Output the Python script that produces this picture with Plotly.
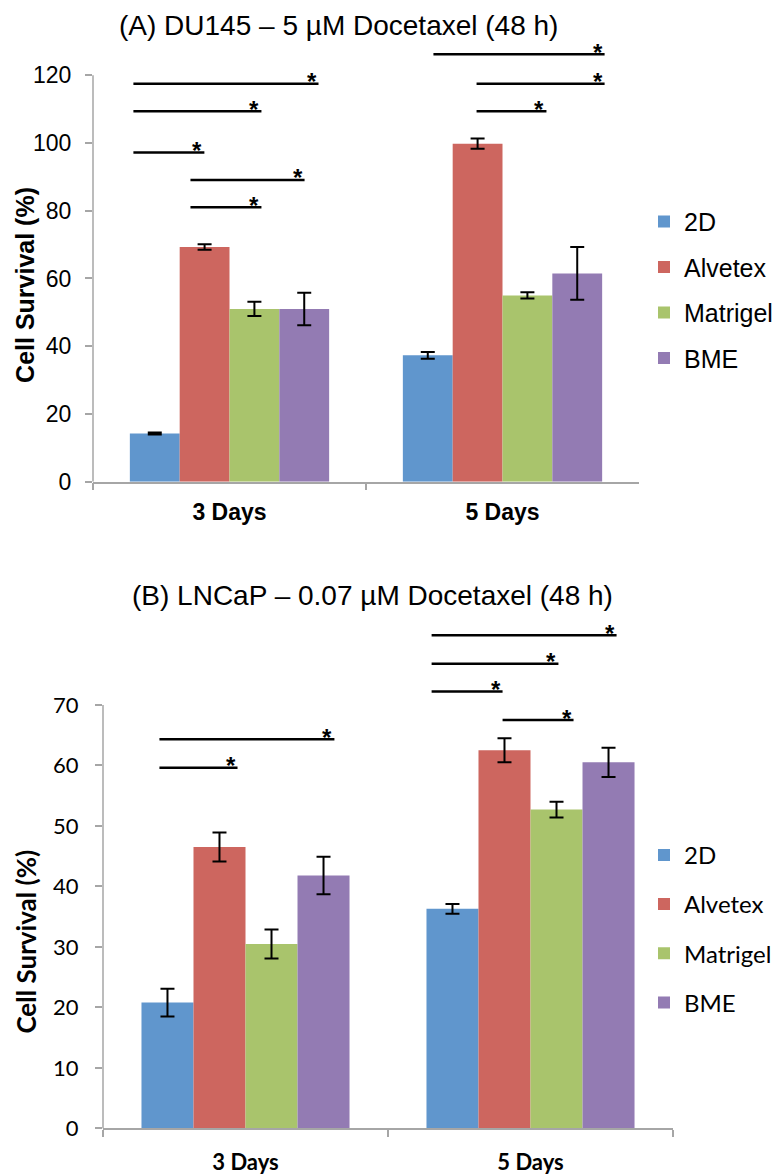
import plotly.graph_objects as go

# ---------------- data ----------------
categories = ["3 Days", "5 Days"]
series = ["2D", "Alvetex", "Matrigel", "BME"]
colors = ["#6096CD", "#CD665F", "#A9C46C", "#937BB3"]

# Panel A: DU145 - 5 uM Docetaxel
a_values = {
    "2D": [14.2, 37.3],
    "Alvetex": [69.3, 99.8],
    "Matrigel": [51.0, 55.0],
    "BME": [51.0, 61.5],
}
a_errors = {
    "2D": [0.3, 1.0],
    "Alvetex": [0.8, 1.5],
    "Matrigel": [2.1, 0.9],
    "BME": [4.8, 7.8],
}
# significance bars: category index, start offset, end offset, height
a_sig_cat = [0, 0, 0, 0, 0, 1, 1, 1]
a_sig_x0 = [-0.352, -0.352, -0.352, -0.143, -0.143, -0.253, -0.095, -0.095]
a_sig_x1 = [0.326, 0.117, -0.092, 0.275, 0.117, 0.374, 0.374, 0.161]
a_sig_y = [117.5, 109.4, 97.2, 89.1, 81.0, 126.2, 117.5, 109.4]
a_ticks = [0, 20, 40, 60, 80, 100, 120]

# Panel B: LNCaP - 0.07 uM Docetaxel
b_values = {
    "2D": [20.8, 36.3],
    "Alvetex": [46.5, 62.5],
    "Matrigel": [30.5, 52.7],
    "BME": [41.8, 60.5],
}
b_errors = {
    "2D": [2.3, 0.8],
    "Alvetex": [2.4, 2.0],
    "Matrigel": [2.4, 1.3],
    "BME": [3.1, 2.4],
}
b_sig_cat = [0, 0, 1, 1, 1, 1]
b_sig_x0 = [-0.302, -0.302, -0.347, -0.347, -0.347, -0.098]
b_sig_x1 = [0.312, -0.028, 0.302, 0.098, -0.098, 0.151]
b_sig_y = [64.3, 59.6, 81.5, 76.8, 72.2, 67.5]
b_ticks = [0, 10, 20, 30, 40, 50, 60, 70]

title_a = "(A) DU145 \u2013 5 \u00b5M Docetaxel (48 h)"
title_b = "(B) LNCaP \u2013 0.07 \u00b5M Docetaxel (48 h)"
y_title = "Cell Survival (%)"

# ---------------- layout constants ----------------
W, H = 782, 1176
A_X = [85 / W, 631 / W]
A_Y = [(H - 479) / H, (H - 40.6) / H]
B_X = [95 / W, 665 / W]
B_Y = [(H - 1133) / H, (H - 619) / H]
A_RANGE = [0, 128]
B_RANGE = [0, 84]

FONT_A = "Arial, Liberation Sans, sans-serif"
FONT_B = "Lato, Carlito, Calibri, sans-serif"
AXIS_GRAY = "#A6A6A6"

fig = go.Figure()

for name, col in zip(series, colors):
    fig.add_trace(go.Bar(
        x=categories, y=a_values[name], name=name,
        marker=dict(color=col, line=dict(width=0)),
        error_y=dict(type="data", array=a_errors[name], color="black",
                     thickness=2, width=7),
        xaxis="x", yaxis="y", legend="legend", legendgroup="a" + name,
    ))
for name, col in zip(series, colors):
    fig.add_trace(go.Bar(
        x=categories, y=b_values[name], name=name,
        marker=dict(color=col, line=dict(width=0)),
        error_y=dict(type="data", array=b_errors[name], color="black",
                     thickness=2, width=7),
        xaxis="x2", yaxis="y2", legend="legend2", legendgroup="b" + name,
    ))

shapes = []
annotations = []


def add_sig(cats, x0s, x1s, ys, xref, yref, font):
    for c, a, b, y in zip(cats, x0s, x1s, ys):
        shapes.append(dict(type="line", xref=xref, yref=yref,
                           x0=c + a, x1=c + b, y0=y, y1=y,
                           line=dict(color="black", width=2.5)))
        annotations.append(dict(xref=xref, yref=yref, x=c + b, y=y,
                                text="*", showarrow=False, xanchor="center",
                                yanchor="middle", xshift=-7, yshift=2,
                                borderpad=0,
                                font=dict(family=font, size=24, color="black",
                                          weight="bold")))


add_sig(a_sig_cat, a_sig_x0, a_sig_x1, a_sig_y, "x", "y", FONT_A)
add_sig(b_sig_cat, b_sig_x0, b_sig_x1, b_sig_y, "x2", "y2", FONT_A)

# y-axis lines that stop at the top tick
shapes.append(dict(type="line", xref="paper", yref="y", x0=A_X[0], x1=A_X[0],
                   y0=0, y1=a_ticks[-1], line=dict(color=AXIS_GRAY, width=1.5)))
shapes.append(dict(type="line", xref="paper", yref="y2", x0=B_X[0], x1=B_X[0],
                   y0=0, y1=b_ticks[-1], line=dict(color=AXIS_GRAY, width=1.5)))

# titles
annotations.append(dict(xref="paper", yref="paper", x=330 / W, y=1,
                        text=title_a, showarrow=False, xanchor="center",
                        yanchor="top",
                        font=dict(family=FONT_A, size=28, color="black")))
annotations.append(dict(xref="paper", yref="paper", x=364 / W, y=1 - 594 / H,
                        text=title_b, showarrow=False, xanchor="center",
                        yanchor="middle",
                        font=dict(family=FONT_A, size=28, color="black")))
# y-axis titles
annotations.append(dict(xref="paper", yref="paper", x=17 / W, y=1 - 280 / H,
                        text=y_title, showarrow=False, textangle=-90,
                        xanchor="center", yanchor="middle",
                        font=dict(family=FONT_A, size=25, color="black",
                                  weight="bold")))
annotations.append(dict(xref="paper", yref="paper", x=18 / W, y=1 - 944 / H,
                        text=y_title, showarrow=False, textangle=-90,
                        xanchor="center", yanchor="middle",
                        font=dict(family=FONT_B, size=26, color="black",
                                  weight="bold")))

xcommon = dict(type="category", showline=True, linecolor=AXIS_GRAY, linewidth=1.5,
               ticks="outside", tickson="boundaries", ticklen=7,
               tickcolor=AXIS_GRAY, tickwidth=1.5, showgrid=False,
               zeroline=False, fixedrange=True)
ycommon = dict(showline=False, ticks="outside", ticklen=7, tickcolor=AXIS_GRAY,
               tickwidth=1.5, showgrid=False, zeroline=False)

fig.update_layout(
    width=W, height=H,
    margin=dict(l=0, r=0, t=0, b=0),
    paper_bgcolor="white", plot_bgcolor="white",
    barmode="group", bargap=0.27, bargroupgap=0,
    xaxis=dict(domain=A_X, anchor="y", range=[-0.5, 1.5], ticklabelstandoff=9,
               tickfont=dict(family=FONT_A, size=23, color="black", weight="bold"),
               **xcommon),
    yaxis=dict(domain=A_Y, anchor="x", range=A_RANGE, tickvals=a_ticks,
               ticklabelstandoff=9,
               tickfont=dict(family=FONT_A, size=23, color="black"),
               **ycommon),
    xaxis2=dict(domain=B_X, anchor="y2", range=[-0.5, 1.5], ticklabelstandoff=13,
                tickfont=dict(family=FONT_B, size=22, color="black", weight="bold"),
                **xcommon),
    yaxis2=dict(domain=B_Y, anchor="x2", range=B_RANGE, tickvals=b_ticks,
                ticklabelstandoff=12,
                tickfont=dict(family=FONT_B, size=22, color="black"),
                **ycommon),
    legend=dict(x=636 / W, y=1 - 193 / H, xanchor="left", yanchor="top",
                tracegroupgap=10, bgcolor="rgba(0,0,0,0)",
                font=dict(family=FONT_A, size=25, color="black")),
    legend2=dict(x=636 / W, y=1 - 834 / H, xanchor="left", yanchor="top",
                 tracegroupgap=15, bgcolor="rgba(0,0,0,0)",
                 font=dict(family=FONT_B, size=24, color="black")),
    shapes=shapes,
    annotations=annotations,
    showlegend=True,
)

fig.write_html("out.html")
